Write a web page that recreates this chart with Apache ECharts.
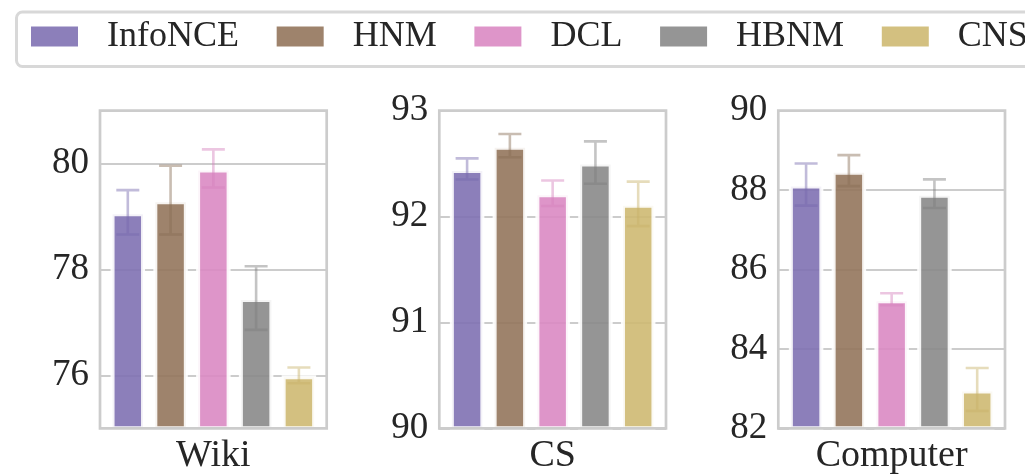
<!DOCTYPE html>
<html><head><meta charset="utf-8">
<script src="https://cdn.jsdelivr.net/npm/echarts@6/dist/echarts.min.js"></script>
<style>html,body{margin:0;padding:0;background:#fff}#c{width:1025px;height:476px}</style>
</head><body><div id="c"></div>
<script>
// ---- data ----
const methods = ['InfoNCE', 'HNM', 'DCL', 'HBNM', 'CNS'];
const datasets = ['Wiki', 'CS', 'Computer'];
const wikiMeans = [79.08, 79.31, 79.91, 77.46, 76.00];
const wikiErrs  = [0.42, 0.65, 0.36, 0.60, 0.15];
const csMeans = [92.45, 92.67, 92.22, 92.51, 92.12];
const csErrs  = [0.10, 0.11, 0.12, 0.20, 0.21];
const computerMeans = [88.14, 88.49, 85.25, 87.91, 82.98];
const computerErrs  = [0.53, 0.39, 0.15, 0.36, 0.54];
const wikiTicks = [76, 78, 80];
const csTicks = [90, 91, 92, 93];
const computerTicks = [82, 84, 86, 88, 90];
const wikiRange = [75, 81];
const csRange = [90, 93];
const computerRange = [82, 90];

// ---- style ----
const FONT = 'Liberation Serif';
const TXT = '#262626';
const barColors = ['#8071b2', '#93765c', '#da89c3', '#898989', '#ceb972'];
const errColors = ['rgba(118,104,172,0.45)', 'rgba(136,108,84,0.45)', 'rgba(212,128,188,0.45)', 'rgba(125,125,125,0.45)', 'rgba(200,178,104,0.45)'];
const panelLefts = [100, 439.3, 778.3];

const panels = [
  {means: wikiMeans, errs: wikiErrs, range: wikiRange, ticks: wikiTicks},
  {means: csMeans, errs: csErrs, range: csRange, ticks: csTicks},
  {means: computerMeans, errs: computerErrs, range: computerRange, ticks: computerTicks}
];

const grid = [], xAxis = [], yAxis = [], series = [];
panels.forEach((p, k) => {
  grid.push({left: panelLefts[k], top: 110.7, width: 226.7, height: 317.6,
    outerBoundsMode: 'none', containLabel: false,
    show: true, borderColor: '#cccccc', borderWidth: 2.7, backgroundColor: 'transparent', z: 5});
  xAxis.push({type: 'value', gridIndex: k, min: -0.65, max: 4.65,
    axisLine: {show: false}, axisTick: {show: false}, axisLabel: {show: false}, splitLine: {show: false},
    name: datasets[k], nameLocation: 'middle', nameGap: 9,
    nameTextStyle: {fontFamily: FONT, fontSize: 38, color: TXT}});
  yAxis.push({type: 'value', gridIndex: k, min: p.range[0], max: p.range[1],
    axisLine: {show: false},
    axisTick: {show: false, customValues: p.ticks},
    axisLabel: {customValues: p.ticks, fontFamily: FONT, fontSize: 37, color: TXT, margin: 11},
    splitLine: {show: true, lineStyle: {color: '#cccccc', width: 2}}});
  methods.forEach((m, i) => {
    series.push({type: 'bar', name: m, xAxisIndex: k, yAxisIndex: k,
      barWidth: 34.5, barGap: '-100%', z: 2,
      itemStyle: {color: barColors[i], borderColor: '#ffffff', borderWidth: 4, opacity: 0.9},
      data: [[i, p.means[i]]]});
    series.push({type: 'custom', name: m + ' err', xAxisIndex: k, yAxisIndex: k, z: 3,
      encode: {x: 0, y: 1},
      data: [[i, p.means[i], p.errs[i]]],
      renderItem: function (params, api) {
        const x = api.value(0), v = api.value(1), e = api.value(2);
        const t = api.coord([x, v + e]), b = api.coord([x, v - e]);
        const hw = 11.5;
        const d = 'M' + t[0] + ' ' + t[1] + 'L' + b[0] + ' ' + b[1] +
          'M' + (t[0] - hw) + ' ' + t[1] + 'L' + (t[0] + hw) + ' ' + t[1] +
          'M' + (b[0] - hw) + ' ' + b[1] + 'L' + (b[0] + hw) + ' ' + b[1];
        return {type: 'path', shape: {pathData: d},
          style: {stroke: errColors[i], lineWidth: 2.6, fill: null}};
      }});
  });
});

const chart = echarts.init(document.getElementById('c'));
chart.setOption({
  animation: false,
  backgroundColor: '#ffffff',
  legend: {
    data: methods, left: 16.5, top: 12, width: 1150,
    orient: 'horizontal', icon: 'rect', itemWidth: 47, itemHeight: 20, itemGap: 37.7,
    selectedMode: false,
    padding: [6.5, 14, 12, 14.5],
    borderColor: '#d8d8d8', borderWidth: 3, borderRadius: 6, backgroundColor: '#ffffff',
    itemStyle: {borderWidth: 0, opacity: 0.9},
    textStyle: {fontFamily: FONT, fontSize: 36, color: TXT, lineHeight: 36, padding: [0, 0, 0, 24]}
  },
  grid, xAxis, yAxis, series
});
</script>
</body></html>
